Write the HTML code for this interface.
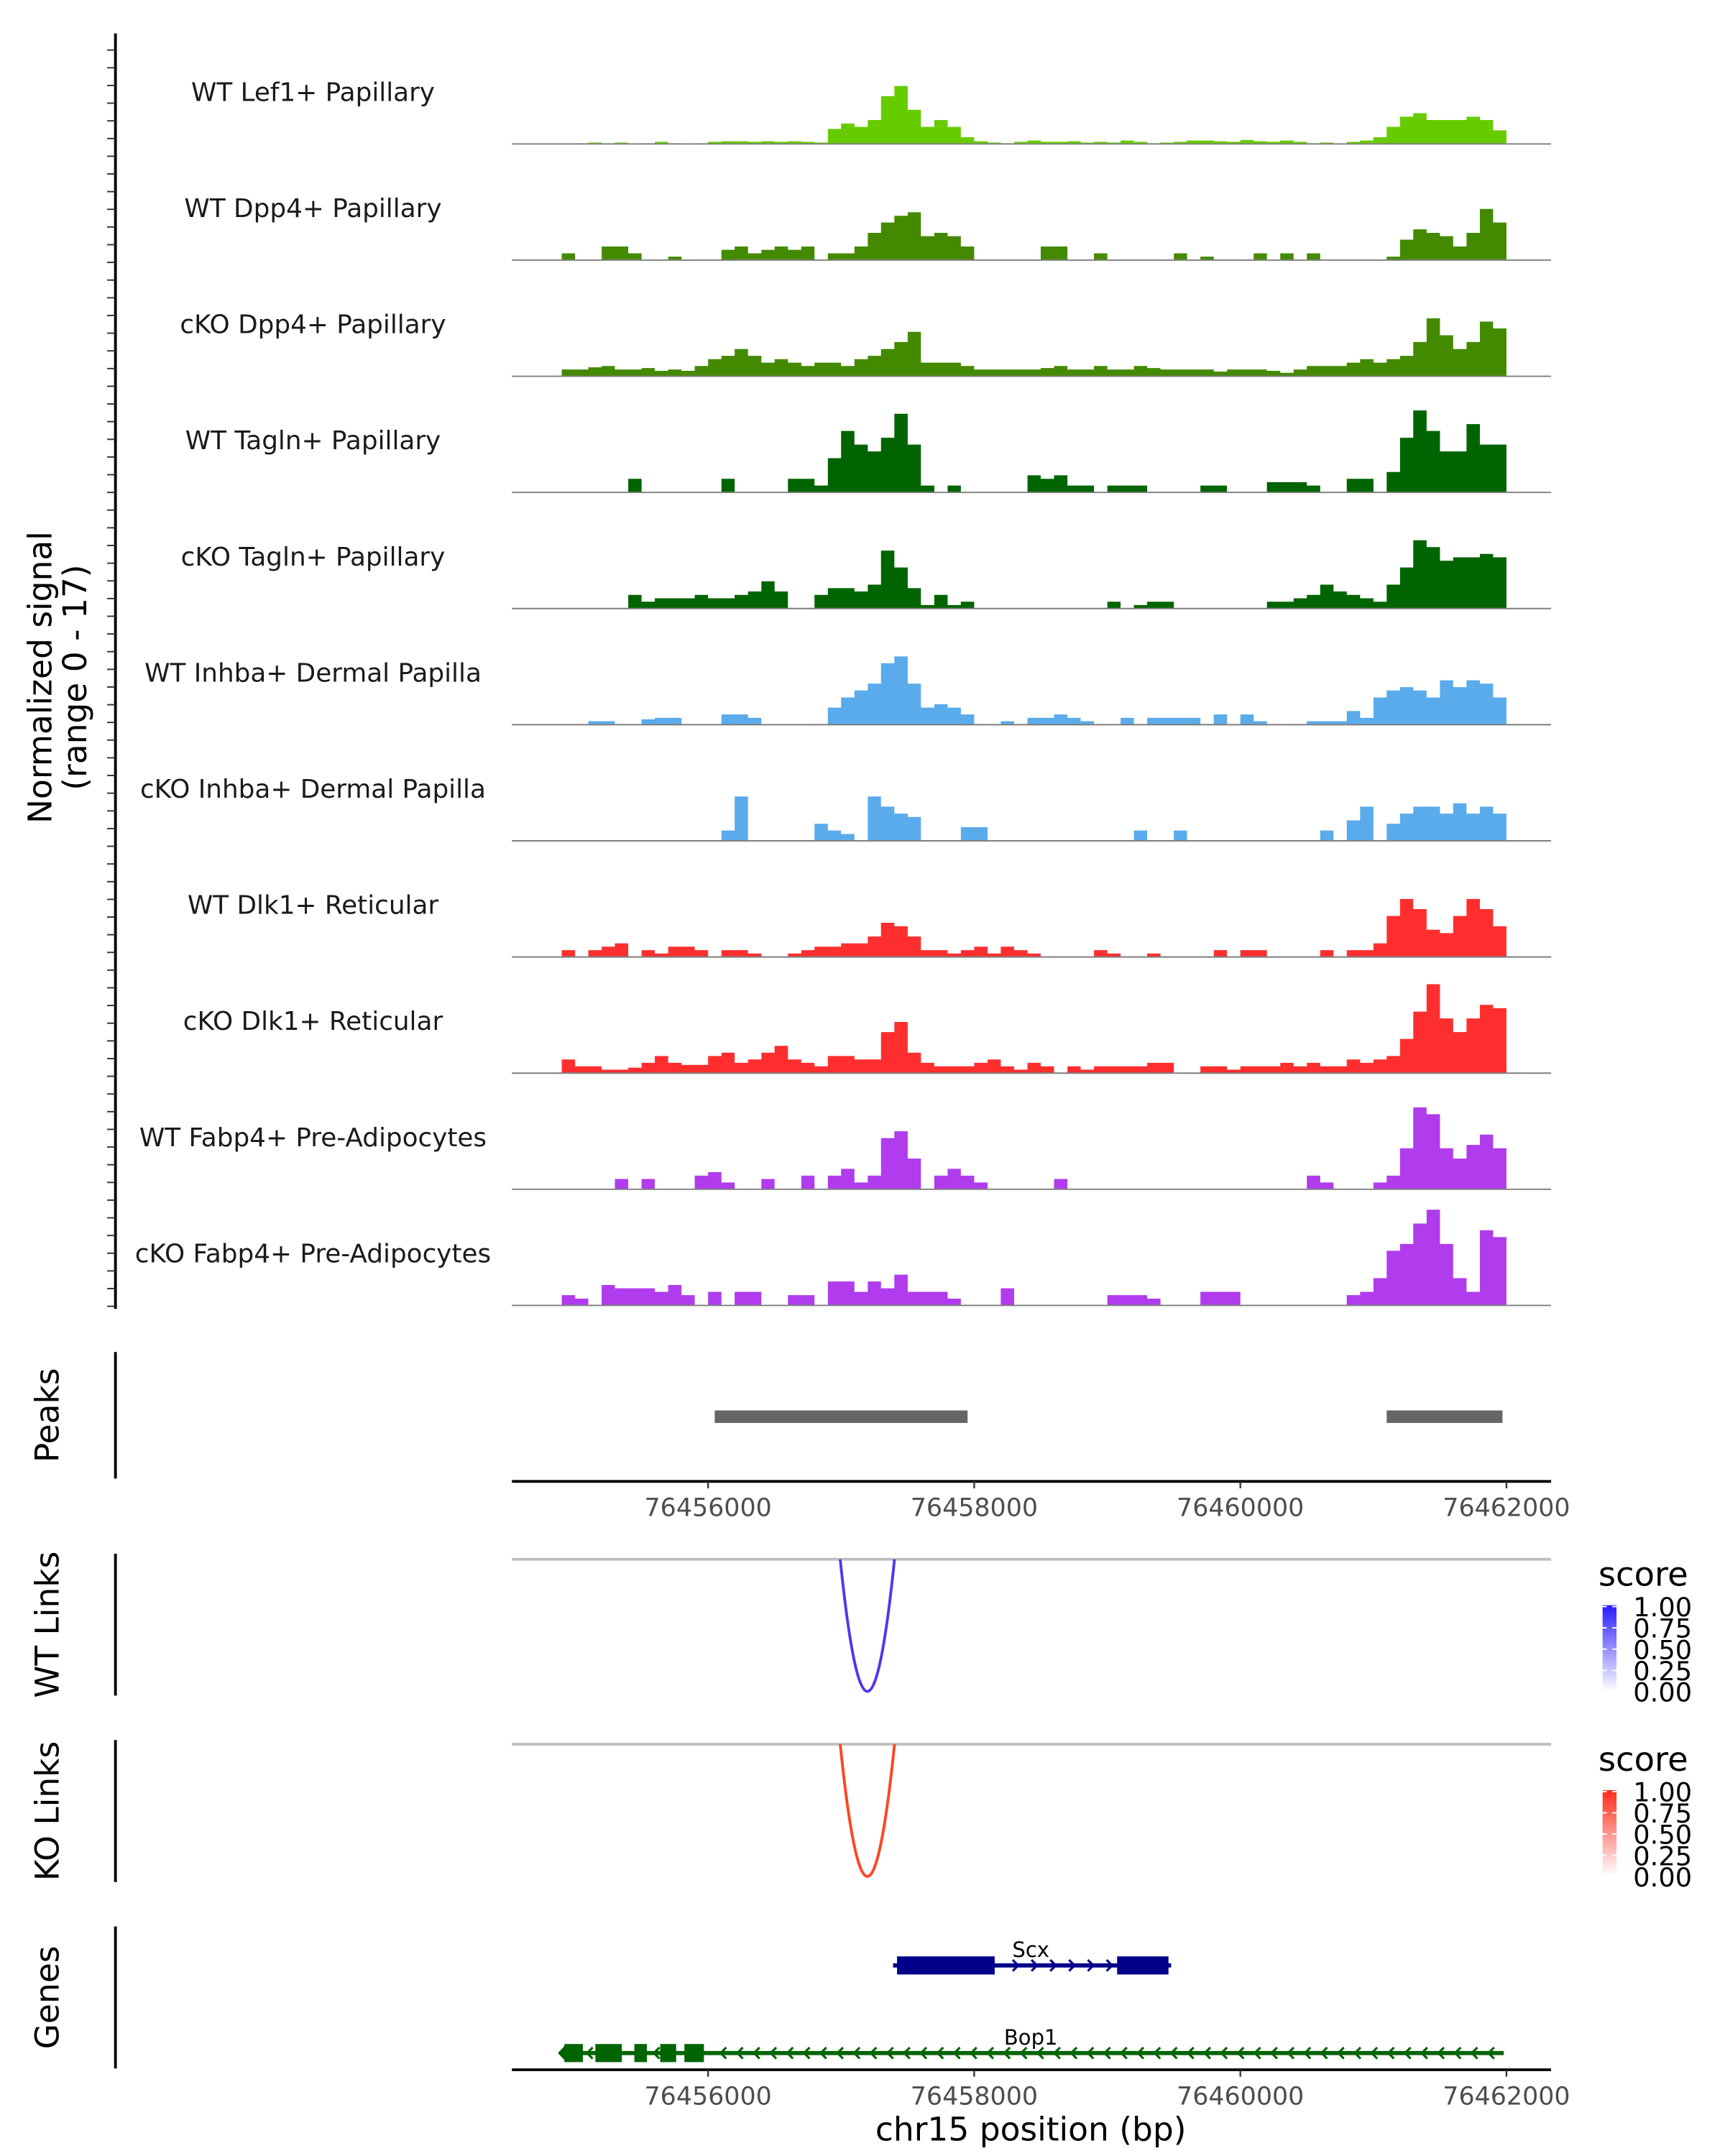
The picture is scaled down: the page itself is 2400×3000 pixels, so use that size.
<!DOCTYPE html>
<html><head><meta charset="utf-8"><style>
html,body{margin:0;padding:0;background:#fff}
svg{display:block}
text{font-family:"DejaVu Sans","Liberation Sans",sans-serif}
</style></head><body>
<svg id="chart" width="2400" height="3000" viewBox="0 0 1240 1550" xmlns="http://www.w3.org/2000/svg">
<g id="tracks"></g>
<g id="axes"></g>
</svg>
<script>
const trackNames = ["WT Lef1+ Papillary","WT Dpp4+ Papillary","cKO Dpp4+ Papillary","WT Tagln+ Papillary","cKO Tagln+ Papillary","WT Inhba+ Dermal Papilla","cKO Inhba+ Dermal Papilla","WT Dlk1+ Reticular","cKO Dlk1+ Reticular","WT Fabp4+ Pre-Adipocytes","cKO Fabp4+ Pre-Adipocytes"];
const trackColors = ["#66cc00","#448a00","#448a00","#006400","#006400","#5aabeb","#5aabeb","#ff2e2e","#ff2e2e","#b03ced","#b03ced"];
const binStart = 76454900;
const binSize = 100;
const sLef1WT = [0,0.1,0.2,0.1,0.2,0,0.1,0.3,0.1,0, 0.1,0.3,0.4,0.4,0.3,0.4,0.3,0.4,0.3,0.2, 2.2,3,2.5,3.5,7,8.5,5,2.5,3.5,2.5, 1,0.4,0.2,0.1,0.3,0.5,0.3,0.3,0.4,0.2, 0.3,0.2,0.5,0.3,0.1,0.2,0.3,0.5,0.5,0.4, 0.3,0.6,0.4,0.3,0.5,0.3,0.1,0.2,0,0.3, 0.5,1,2.5,4,4.5,3.5,3.5,3.5,4,3.5,2];
const sDpp4WT = [1,0,0,2,2,1,0,0,0.5,0, 0,0,1.5,2,1,1.5,2,1.5,2,0, 1,1,2,4,5.5,6.5,7,3.5,4,3.5, 2,0,0,0,0,0,2,2,0,0, 1,0,0,0,0,0,1,0,0.5,0, 0,0,1,0,1,0,1,0,0,0, 0,0,0.5,3,4.5,4,3.5,2,4,7.5,5.5];
const sDpp4KO = [1,1,1.3,1.5,1,1,1.2,0.8,1,0.8, 1.5,2.5,3,4,3,2,2.5,2,1.5,2, 2,1.5,2.5,3,4,5,6.5,2,2,2, 1.5,1,1,1,1,1,1.2,1.5,1,1, 1.5,1,1,1.5,1.2,1,1,1,1,0.7, 1,1,1,0.8,0.5,1,1.5,1.5,1.5,2, 2.5,2,2.5,3,5,8.5,6,4,5,8,7];
const sTaglnWT = [0,0,0,0,0,2,0,0,0,0, 0,0,2,0,0,0,0,2,2,1, 5,9,7,6,8,11.5,7,1,0,1, 0,0,0,0,0,2.5,2,2.5,1,1, 0,1,1,1,0,0,0,0,1,1, 0,0,0,1.5,1.5,1.5,1,0,0,2, 2,0,3,8,12,9,6,6,10,7,7];
const sTaglnKO = [0,0,0,0,0,2,1,1.5,1.5,1.5, 2,1.5,1.5,2,2.5,4,2.5,0,0,2, 3,3,2.5,3.5,8.5,6,3,0.5,2,0.5, 1,0,0,0,0,0,0,0,0,0, 0,1,0,0.5,1,1,0,0,0,0, 0,0,0,1,1,1.5,2,3.5,2.5,2, 1.5,1,3.5,6,10,9,7,7.5,7.5,8,7.5];
const sInhbaWT = [0,0,0.5,0.5,0,0,0.8,1,1,0, 0,0,1.5,1.5,1,0,0,0,0,0, 2.5,4,5,6,9,10,6,2.5,3,2.5, 1.5,0,0,0.5,0,1,1,1.5,1,0.5, 0,0,1,0,1,1,1,1,0,1.5, 0,1.5,0.5,0,0,0,0.5,0.5,0.5,2, 1,4,5,5.5,5,4,6.5,5.5,6.5,6,4];
const sInhbaKO = [0,0,0,0,0,0,0,0,0,0, 0,0,1.5,6.5,0,0,0,0,0,2.5, 1.5,1,0,6.5,5,4,3.5,0,0,0, 2,2,0,0,0,0,0,0,0,0, 0,0,0,1.5,0,0,1.5,0,0,0, 0,0,0,0,0,0,0,1.5,0,3, 5,0,2.5,4,5,5,4,5.5,4,5,4];
const sDlk1WT = [1,0,1,1.5,2,0,1,0.5,1.5,1.5, 1,0,1,1,0.5,0,0,0.5,1,1.5, 1.5,2,2,3,5,4.5,3,1,1,0.5, 1,1.5,0.5,1.5,1,0.5,0,0,0,0, 1,0.5,0,0,0.5,0,0,0,0,1, 0,1,1,0,0,0,0,1,0,1, 1,2,6,8.5,7,4,3.5,6,8.5,7,4.5];
const sDlk1KO = [2,1,1,0.5,0.5,0.8,1.5,2.5,1.5,1.2, 1.2,2.5,3,1.5,2,3,4,2,1.5,1, 2.5,2.5,2,2,6,7.5,3,1.5,1,1, 1,1.5,2,1,0.5,1.5,1,0,1,0.5, 1,1,1,1,1.5,1.5,0,0,1,1, 0.5,1,1,1,1.5,1,1.5,1,1,2, 1.5,2,2.5,5,9,13,8,6,8,10,9.5];
const sFabp4WT = [0,0,0,0,1.5,0,1.5,0,0,0, 2,2.5,1,0,0,1.5,0,0,2,0, 2,3,1,2,7.5,8.5,4.5,0,2,3, 2,1,0,0,0,0,0,1.5,0,0, 0,0,0,0,0,0,0,0,0,0, 0,0,0,0,0,0,2,1,0,0, 0,1,2,6,12,11,6,4.5,6.5,8,6];
const sFabp4KO = [1.5,1,0,3,2.5,2.5,2.5,2,3,1.5, 0,2,0,2,2,0,0,1.5,1.5,0, 3.5,3.5,2,3.5,2.5,4.5,2,2,2,1, 0,0,0,2.5,0,0,0,0,0,0, 0,1.5,1.5,1.5,1,0,0,0,2,2, 2,0,0,0,0,0,0,0,0,1.5, 2,4,8,9,12,14,9,4,2,11,10];
const signals = [sLef1WT,sDpp4WT,sDpp4KO,sTaglnWT,sTaglnKO,sInhbaWT,sInhbaKO,sDlk1WT,sDlk1KO,sFabp4WT,sFabp4KO];
const xTicks = [76456000,76458000,76460000,76462000];
const peakStarts = [76456050,76461100];
const peakEnds = [76457950,76461970];
const linkStarts = [76456993,76456993];
const linkEnds = [76457401,76457401];
const linkScores = [0.85,0.85];
const legendTicks = ["1.00","0.75","0.50","0.25","0.00"];

const NS="http://www.w3.org/2000/svg";
function X(bp){return 509+(bp-76456000)*191.3/2000;}
const yMax=17, trackH=83.5, firstBase=103.5;
function el(tag,attrs,parent,txt){const e=document.createElementNS(NS,tag);for(const k in attrs)e.setAttribute(k,attrs[k]);if(txt!==undefined)e.textContent=txt;parent.appendChild(e);return e;}
const tg=document.getElementById('tracks'), ag=document.getElementById('axes');

signals.forEach((vals,t)=>{
  const base=firstBase+t*trackH;
  const Y=v=>base-v/yMax*trackH;
  let d=`M${X(binStart).toFixed(1)},${base}`;
  vals.forEach((v,i)=>{const x0=X(binStart+i*binSize),x1=X(binStart+(i+1)*binSize);d+=`L${x0.toFixed(1)},${Y(v).toFixed(1)}L${x1.toFixed(1)},${Y(v).toFixed(1)}`;});
  d+=`L${X(binStart+vals.length*binSize).toFixed(1)},${base}Z`;
  const p=el('path',{d:d,fill:trackColors[t]},tg);
  
  
  const b=el('line',{x1:368,x2:1115,y1:base,y2:base,stroke:'#7f7f7f','stroke-width':1},tg);
  
  
  const lb=el('text',{x:225,y:base-31,'font-size':18.5,'text-anchor':'middle',fill:'#1a1a1a'},tg,trackNames[t]);
  
  
});

// left signal axis
el('line',{x1:83,x2:83,y1:24,y2:941,stroke:'#000','stroke-width':2},ag);
for(let y=36;y<=941;y+=12.72){el('line',{x1:77,x2:83,y1:y,y2:y,stroke:'#333','stroke-width':1},ag);}
const yl=el('text',{transform:'translate(41,487) rotate(-90)','font-size':23.5,'text-anchor':'middle',fill:'#000'},ag);


el('tspan',{x:0,dy:-4},yl,'Normalized signal');
el('tspan',{x:0,dy:25},yl,'(range 0 - 17)');

function sideLabel(txt,y1,y2,name){
  el('line',{x1:83,x2:83,y1:y1,y2:y2,stroke:'#000','stroke-width':2},ag);
  const t=el('text',{transform:`translate(42,${(y1+y2)/2}) rotate(-90)`,'font-size':23.5,'text-anchor':'middle',fill:'#000'},ag,txt);
  
  
}
sideLabel('Peaks',972,1063,'peaks-label');
sideLabel('WT Links',1117,1219,'wt-links-label');
sideLabel('KO Links',1251,1353,'ko-links-label');
sideLabel('Genes',1385,1487,'genes-label');

// peaks
peakStarts.forEach((s,i)=>{const r=el('rect',{x:X(s),y:1014,width:X(peakEnds[i])-X(s),height:9,fill:'#666'},ag);
  
  });

function xAxis(y){
  el('line',{x1:368,x2:1115,y1:y,y2:y,stroke:'#000','stroke-width':2},ag);
  xTicks.forEach(v=>{el('line',{x1:X(v),x2:X(v),y1:y,y2:y+5,stroke:'#333','stroke-width':1.2},ag);
    const t=el('text',{x:X(v),y:y+25,'font-size':18,'text-anchor':'middle',fill:'#4d4d4d'},ag,String(v));
    
    });
}
xAxis(1065); xAxis(1488);
const xt=el('text',{x:741,y:1539,'font-size':23.5,'text-anchor':'middle',fill:'#000'},ag,'chr15 position (bp)');



// links
const linkTop=[1121,1254], linkColors=['#5533ee','#ff4422'], gradC=[['#2b1bff','#ffffff'],['#ff2b1b','#ffffff']];
const defs=el('defs',{},ag);
linkStarts.forEach((s,i)=>{
  const top=linkTop[i];
  el('line',{x1:368,x2:1115,y1:top,y2:top,stroke:'#bebebe','stroke-width':2},ag);
  const depth=95*linkScores[i]/0.85;
  const x0=X(s),x1=X(linkEnds[i]);
  const a=el('path',{d:`M${x0},${top}Q${(x0+x1)/2},${top+2*depth} ${x1},${top}`,fill:'none',stroke:linkColors[i],'stroke-width':2},ag);
  
  
  const ly=top+19;
  const st=el('text',{x:1149,y:ly,'font-size':24,fill:'#000'},ag,'score');
  
  
  const g=el('linearGradient',{id:'g'+i,x1:0,y1:0,x2:0,y2:1},defs);
  el('stop',{offset:0,'stop-color':gradC[i][0]},g);el('stop',{offset:1,'stop-color':gradC[i][1]},g);
  const cb=el('rect',{x:1152,y:ly+14,width:10,height:62,fill:`url(#g${i})`},ag);
  
  
  legendTicks.forEach((lt,k)=>{const yy=ly+15+k*15.3;
    el('line',{x1:1152,x2:1155,y1:yy,y2:yy,stroke:'#fff'},ag);el('line',{x1:1159,x2:1162,y1:yy,y2:yy,stroke:'#fff'},ag);
    const tt=el('text',{x:1174,y:yy+7,'font-size':19,fill:'#000'},ag,lt);
    
    });
});

// genes
function gene(name,y,start,end,exons,color,dir,labelY){
  el('line',{x1:X(start),x2:X(end),y1:y,y2:y,stroke:color,'stroke-width':3},ag);
  for(let x=X(start)+8;x<X(end)-4;x+=(dir>0?13.5:12)){
    if(exons.some(e=>x>X(e[0])-3&&x<X(e[1])+3))continue;
    const p=dir>0?`M${x-3},${y-4}L${x+1},${y}L${x-3},${y+4}`:`M${x+3},${y-4}L${x-1},${y}L${x+3},${y+4}`;
    el('path',{d:p,fill:'none',stroke:color,'stroke-width':1.6},ag);
  }
  exons.forEach(e=>{const r=el('rect',{x:X(e[0]),y:y-6.5,width:X(e[1])-X(e[0]),height:13,fill:color},ag);
    
    });
  const t=el('text',{x:741,y:labelY,'font-size':15,'text-anchor':'middle',fill:'#000'},ag,name);
  
  
}
gene('Scx',1413,76457390,76459480,[[76457420,76458154],[76459074,76459460]],'#00008b',1,1407);
gene('Bop1',1476,76454892,76461980,[[76454920,76455059],[76455153,76455352],[76455446,76455540],[76455640,76455760],[76455822,76455969]],'#006400',-1,1470);
el('path',{d:`M${X(76454892)-2},1476L${X(76454935)},1469.5L${X(76454935)},1482.5Z`,fill:'#006400'},ag);
</script>
</body></html>
